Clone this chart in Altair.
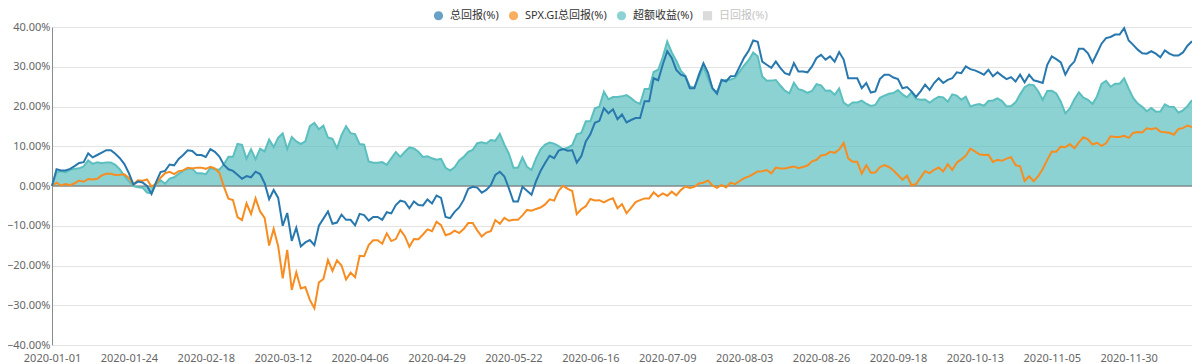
import altair as alt
import pandas as pd

LATIN_CJK = "'Noto Sans', 'Noto Sans CJK SC'"

series_names = ["总回报(%)", "SPX.GI总回报(%)", "超额收益(%)", "日回报(%)"]
series_colors = ["#2878ae", "#f78d20", "#5cbfbf", "#cccccc"]
series_shapes = ["circle", "circle", "circle", "square"]

tick_labels = ["2020-01-01", "2020-01-24", "2020-02-18", "2020-03-12", "2020-04-06",
               "2020-04-29", "2020-05-22", "2020-06-16", "2020-07-09", "2020-08-03",
               "2020-08-26", "2020-09-18", "2020-10-13", "2020-11-05", "2020-11-30"]

y_ticks = [-40, -30, -20, -10, 0, 10, 20, 30, 40]

total_return = [
    0.0, 4.2, 3.9, 3.9, 4.3, 5.0, 5.8, 6.0, 8.2, 7.2,
    7.8, 8.4, 9.0, 9.0, 8.1, 7.0, 5.5, 3.2, 0.4, 1.1,
    0.9, 0.0, -2.0, 1.0, 3.5, 3.8, 5.4, 5.2, 6.8, 7.8,
    9.0, 8.8, 7.8, 7.8, 7.3, 9.3, 8.6, 7.4, 5.3, 4.2,
    3.8, 2.8, 1.8, 2.5, 2.2, 3.6, 3.0, 0.7, -3.3, -1.0,
    -3.0, -10.0, -6.8, -13.8, -10.5, -15.2, -14.2, -13.6, -14.9, -10.0,
    -8.2, -6.4, -9.5, -9.2, -7.2, -8.5, -8.5, -9.9, -7.0, -7.3,
    -8.7, -7.8, -7.8, -8.5, -6.6, -6.9, -4.8, -3.7, -4.0, -5.6,
    -3.9, -4.8, -4.9, -3.4, -4.4, -2.4, -3.0, -7.8, -8.1, -6.5,
    -5.4, -3.5, -0.7, -0.2, -0.4, -1.7, -1.0, 0.2, 2.8, 3.6,
    2.4, -0.6, -3.9, -3.9, -0.2, -1.2, -2.2, 1.2, 3.8, 5.8,
    7.6, 7.0, 8.9, 9.3, 8.9, 9.0, 5.9, 7.5, 11.2, 13.0,
    15.9, 16.4, 19.6, 18.3, 19.3, 16.8, 18.0, 16.0, 16.6, 17.1,
    17.1, 21.3, 21.3, 27.1, 26.6, 30.5, 33.9, 32.2, 29.2, 28.0,
    27.6, 24.6, 24.6, 28.0, 30.9, 28.5, 24.6, 23.2, 26.7, 26.3,
    27.6, 27.7, 30.0, 32.3, 34.0, 36.6, 36.3, 31.3, 30.5, 29.7,
    31.3, 29.7, 28.4, 28.0, 30.9, 28.8, 28.8, 28.6, 30.1, 32.2,
    33.0, 31.8, 32.6, 31.3, 33.7, 31.8, 27.1, 27.1, 27.1, 24.6,
    25.9, 23.5, 23.8, 26.9, 28.0, 28.0, 27.3, 26.9, 24.6, 24.9,
    23.8, 22.4, 23.8, 25.5, 24.2, 25.9, 27.1, 25.9, 26.7, 27.1,
    28.6, 28.4, 30.1, 29.4, 29.1, 28.6, 28.0, 29.2, 27.6, 28.6,
    27.7, 26.9, 27.4, 26.3, 28.0, 26.1, 28.0, 26.6, 26.3, 25.9,
    30.5, 32.6, 31.9, 31.1, 28.0, 30.1, 31.3, 34.5, 34.5, 33.4,
    31.1, 33.4, 35.8, 37.2, 37.5, 38.1, 38.1, 39.7, 36.6, 35.5,
    34.3, 33.4, 33.3, 33.9, 33.3, 32.4, 34.1, 33.3, 32.8, 32.8,
    33.6, 35.3, 36.4,
]

spx_return = [
    0.00, 0.84, 0.13, 0.48, 0.20, 0.69, 1.36, 1.07, 1.78, 1.62,
    1.81, 2.66, 3.06, 3.06, 2.79, 2.82, 2.93, 2.00, 0.40, 1.41,
    1.32, 1.64, -0.16, 0.56, 2.07, 3.22, 3.56, 3.00, 3.75, 3.93,
    4.60, 4.43, 4.62, 4.62, 4.32, 4.81, 4.41, 3.31, -0.15, -3.17,
    -3.54, -7.80, -8.56, -4.35, -7.04, -3.12, -6.40, -8.00, -14.99, -10.79,
    -15.15, -23.22, -16.09, -26.14, -21.72, -25.77, -25.42, -28.66, -30.75, -24.25,
    -23.38, -18.59, -21.34, -18.70, -20.00, -23.53, -21.79, -22.97, -17.55, -17.68,
    -14.88, -13.65, -13.65, -14.52, -11.91, -13.85, -13.35, -11.03, -12.62, -15.30,
    -13.36, -13.40, -12.20, -10.90, -11.37, -9.02, -9.85, -12.38, -12.01, -11.22,
    -11.84, -10.82, -9.32, -9.30, -11.16, -12.71, -11.71, -11.36, -8.57, -9.53,
    -8.02, -8.74, -8.52, -8.52, -7.40, -6.02, -6.22, -5.77, -5.42, -4.64,
    -3.34, -3.67, -1.14, 0.05, -0.73, -1.26, -7.08, -5.86, -5.08, -3.28,
    -3.63, -3.57, -4.12, -3.50, -3.08, -5.59, -4.55, -6.86, -5.50, -4.04,
    -3.56, -3.12, -3.12, -1.58, -2.65, -1.88, -2.44, -1.42, -2.34, -1.03,
    -0.13, -0.47, -0.19, 0.65, 0.82, 1.40, 0.15, -0.47, 0.27, -0.38,
    0.86, 0.48, 1.25, 1.98, 2.34, 3.00, 3.66, 3.73, 4.01, 3.19,
    4.63, 4.42, 4.40, 4.68, 4.92, 4.46, 4.79, 5.15, 6.21, 6.59,
    7.67, 7.85, 8.58, 8.34, 9.16, 10.84, 6.94, 6.07, 6.07, 3.13,
    5.21, 3.36, 3.41, 4.73, 5.27, 4.79, 3.91, 2.75, 1.56, 2.62,
    0.19, 0.49, 2.09, 3.74, 3.24, 4.09, 4.64, 3.64, 5.50, 4.03,
    5.84, 6.69, 7.63, 9.39, 8.70, 7.98, 7.82, 7.83, 6.07, 6.57,
    6.34, 6.89, 7.26, 5.27, 4.95, 1.25, 2.46, 1.21, 2.46, 4.28,
    6.58, 8.66, 8.63, 9.90, 9.74, 10.58, 9.48, 10.97, 12.26, 11.72,
    10.43, 10.87, 10.11, 10.73, 12.52, 12.35, 12.35, 12.62, 12.10, 13.36,
    13.56, 13.49, 14.50, 14.27, 14.59, 13.68, 13.54, 13.39, 12.90, 14.36,
    14.56, 15.22, 14.81,
]

excess_return = [
    0.00, 3.36, 3.77, 3.42, 4.10, 4.31, 4.44, 4.93, 6.42, 5.58,
    5.99, 5.74, 5.94, 5.94, 5.31, 4.18, 2.57, 1.20, 0.00, -0.31,
    -0.42, -1.64, -1.84, 0.44, 1.43, 0.58, 1.84, 2.20, 3.05, 3.87,
    4.40, 4.37, 3.18, 3.18, 2.98, 4.49, 4.19, 4.09, 5.45, 7.37,
    7.34, 10.60, 10.36, 6.85, 9.24, 6.72, 9.40, 8.70, 11.69, 9.79,
    12.15, 13.22, 9.29, 12.34, 11.22, 10.57, 11.22, 15.06, 15.85, 14.25,
    15.18, 12.19, 11.84, 9.50, 12.80, 15.03, 13.29, 13.07, 10.55, 10.38,
    6.18, 5.85, 5.85, 6.02, 5.31, 6.95, 8.55, 7.33, 8.62, 9.70,
    9.46, 8.60, 7.30, 7.50, 6.97, 6.62, 6.85, 4.58, 3.91, 4.72,
    6.44, 7.32, 8.62, 9.10, 10.76, 11.01, 10.71, 11.56, 11.37, 13.13,
    10.42, 8.14, 4.62, 4.62, 7.20, 4.82, 4.02, 6.97, 9.22, 10.44,
    10.94, 10.67, 10.04, 9.25, 9.63, 10.26, 12.98, 13.36, 16.28, 16.28,
    19.53, 19.97, 23.72, 21.80, 22.38, 22.39, 22.55, 22.86, 22.10, 21.14,
    20.66, 24.42, 24.42, 28.68, 29.25, 32.38, 36.34, 33.62, 31.54, 29.03,
    27.73, 25.07, 24.79, 27.35, 30.08, 27.10, 24.45, 23.67, 26.43, 26.68,
    26.74, 27.22, 28.75, 30.32, 31.66, 33.60, 32.64, 27.57, 26.49, 26.51,
    26.67, 25.28, 24.00, 23.32, 25.98, 24.34, 24.01, 23.45, 23.89, 25.61,
    25.33, 23.95, 24.02, 22.96, 24.54, 20.96, 20.16, 21.03, 21.03, 21.47,
    20.69, 20.14, 20.39, 22.17, 22.73, 23.21, 23.39, 24.15, 23.04, 22.28,
    23.61, 21.91, 21.71, 21.76, 20.96, 21.81, 22.46, 22.26, 21.20, 23.07,
    22.76, 21.71, 22.47, 20.01, 20.40, 20.62, 20.18, 21.37, 21.53, 22.03,
    21.36, 20.01, 20.14, 21.03, 23.05, 24.85, 25.54, 25.39, 23.84, 21.62,
    23.92, 23.94, 23.27, 21.20, 18.26, 19.52, 21.82, 23.53, 22.24, 21.68,
    20.67, 22.53, 25.69, 26.47, 24.98, 25.75, 25.75, 27.08, 24.50, 22.14,
    20.74, 19.91, 18.80, 19.63, 18.71, 18.72, 20.56, 19.91, 19.90, 18.44,
    19.04, 20.08, 21.59,
]

# category axis: every weekday from 2020-01-01 (holidays carry the previous value)
dates = pd.bdate_range("2020-01-01", periods=len(total_return)).strftime("%Y-%m-%d")

df = pd.DataFrame({
    "date": list(dates),
    "total": total_return,
    "spx": spx_return,
    "excess": excess_return,
})

x_enc = alt.X(
    "date:O",
    scale=alt.Scale(type="point", padding=0),
    axis=alt.Axis(values=tick_labels, labelAngle=0, labelAlign="center",
                  labelFlush=False, title=None, domain=False,
                  ticks=False, grid=False, labelPadding=7, labelColor="#666666",
                  labelFontSize=11, labelOverlap=False, labelFont=LATIN_CJK),
)
y_scale = alt.Scale(domain=[-40, 40], nice=False, zero=False)
y_left_axis = alt.Axis(values=y_ticks, labelExpr="format(datum.value, '.2f') + '%'",
                       title=None, domain=True, domainColor="#8a8a8a", ticks=False,
                       grid=True, gridColor="#e3e3e3", labelPadding=2,
                       labelColor="#666666", labelFontSize=11, labelFont=LATIN_CJK)

base = alt.Chart(df)

area = base.mark_area(color=series_colors[2], opacity=0.7).encode(
    x=x_enc,
    y=alt.Y("excess:Q", scale=y_scale, axis=y_left_axis),
    y2=alt.datum(0),
)

zero_rule = alt.Chart(pd.DataFrame({"level": [0]})).mark_rule(
    color="#6a6a6a", strokeWidth=1
).encode(
    y=alt.Y("level:Q", scale=y_scale,
            axis=alt.Axis(orient="right", labels=False, ticks=False, grid=False,
                          domain=True, domainColor="#9a9a9a", title=None)),
)

excess_line = base.mark_line(color=series_colors[2], strokeWidth=2).encode(
    x=x_enc, y=alt.Y("excess:Q", scale=y_scale, axis=None))
spx_line = base.mark_line(color=series_colors[1], strokeWidth=2).encode(
    x=x_enc, y=alt.Y("spx:Q", scale=y_scale, axis=None))
total_line = base.mark_line(color=series_colors[0], strokeWidth=2).encode(
    x=x_enc, y=alt.Y("total:Q", scale=y_scale, axis=None))

legend_kw = dict(
    orient="none", legendX=381, legendY=-17, direction="horizontal", title=None,
    symbolSize=85, symbolStrokeWidth=0, labelFont=LATIN_CJK, labelFontSize=11,
    labelColor={"expr": "datum.value == '日回报(%)' ? '#c4c4c4' : '#333333'"},
    columnPadding=9, labelOffset=6, padding=0,
)

legend_layer = alt.Chart(pd.DataFrame({"series": series_names})).mark_point(
    filled=True
).encode(
    color=alt.Color("series:N", scale=alt.Scale(domain=series_names, range=series_colors),
                    legend=alt.Legend(**legend_kw)),
    shape=alt.Shape("series:N", scale=alt.Scale(domain=series_names, range=series_shapes),
                    legend=alt.Legend(**legend_kw)),
).transform_filter("false")

chart = alt.layer(
    area, zero_rule, excess_line, spx_line, total_line, legend_layer
).resolve_axis(
    y="independent"
).properties(
    width=1140, height=318,
    padding={"left": 44, "top": 19, "right": 0, "bottom": 18},
    autosize=alt.AutoSizeParams(type="none"),
).configure_view(stroke=None)

chart.save("out.html", embed_options={"renderer": "svg", "actions": False})
